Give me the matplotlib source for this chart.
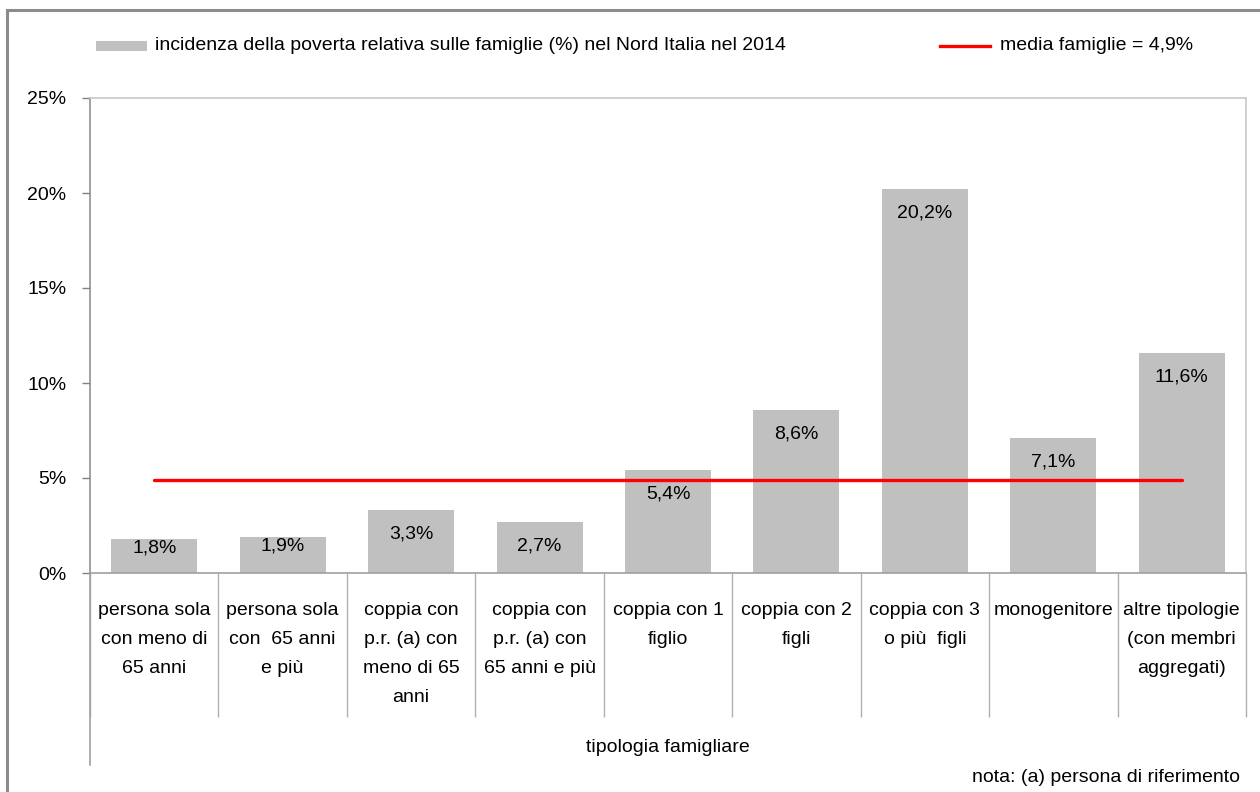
import matplotlib
matplotlib.use("Agg")
import matplotlib.pyplot as plt
from matplotlib.patches import Rectangle
from matplotlib.lines import Line2D
from matplotlib import font_manager

categories = [
    "persona sola\ncon meno di\n65 anni",
    "persona sola\ncon  65 anni\ne più",
    "coppia con\np.r. (a) con\nmeno di 65\nanni",
    "coppia con\np.r. (a) con\n65 anni e più",
    "coppia con 1\nfiglio",
    "coppia con 2\nfigli",
    "coppia con 3\no più  figli",
    "monogenitore",
    "altre tipologie\n(con membri\naggregati)",
]
values = [1.8, 1.9, 3.3, 2.7, 5.4, 8.6, 20.2, 7.1, 11.6]
media = 4.9
yticks = [0, 5, 10, 15, 20, 25]
ytick_labels = ["0%", "5%", "10%", "15%", "20%", "25%"]
bar_legend = "incidenza della poverta relativa sulle famiglie (%) nel Nord Italia nel 2014"
line_legend = "media famiglie = 4,9%"
xlabel = "tipologia famigliare"
note = "nota: (a) persona di riferimento"

names = {f.name for f in font_manager.fontManager.ttflist}
fam = ["Liberation Sans Narrow", "Liberation Sans", "DejaVu Sans"]
fam = [f for f in fam if f in names] + ["DejaVu Sans"]
plt.rcParams["font.family"] = fam
FS = 14

W, H = 1260, 792
fig = plt.figure(figsize=(W / 100, H / 100), dpi=100)

def fx(px):
    return px / W

def fy(py):
    return 1 - py / H

# outer chart frame
fig.patches.append(Rectangle((fx(7), fy(800)), fx(1270) - fx(7), fy(10) - fy(800),
                             transform=fig.transFigure, fill=False,
                             edgecolor="#8c8c8c", linewidth=2.2, clip_on=False))

ax = fig.add_axes([fx(90), fy(573), fx(1246) - fx(90), fy(98) - fy(573)])
n = len(values)
x = list(range(n))
ax.bar(x, values, width=0.67, color="#c0c0c0", zorder=2)
ax.plot([x[0], x[-1]], [media, media], color="#ff0000", linewidth=2.4,
        solid_capstyle="round", zorder=3)

ax.set_xlim(-0.5, n - 0.5)
ax.set_ylim(0, 25)
ax.set_yticks(yticks)
ax.set_yticklabels(ytick_labels, fontsize=FS)
ax.tick_params(axis="y", length=6, width=1, color="#808080", pad=11)

# category labels between separator ticks
ax.set_xticks(x)
ax.set_xticklabels(categories, fontsize=FS, va="top", linespacing=1.93)
ax.tick_params(axis="x", which="major", length=0, pad=21)
ax.set_xticks([i - 0.5 for i in range(n + 1)], minor=True)
ax.tick_params(axis="x", which="minor", length=104, width=1, color="#b0b0b0", direction="out")

for s in ["top", "right"]:
    ax.spines[s].set_color("#c8c8c8")
    ax.spines[s].set_linewidth(1.2)
ax.spines["bottom"].set_color("#a0a0a0")
ax.spines["bottom"].set_linewidth(1.2)
ax.spines["left"].set_color("#909090")
ax.spines["left"].set_linewidth(1.2)

# left axis line continues below the category labels
ax.add_line(Line2D([0, 0], [0, -(765 - 573) / (573 - 98)], transform=ax.transAxes,
                   color="#a0a0a0", linewidth=1.2, clip_on=False))

# value labels inside the bar tops
for xi, v in zip(x, values):
    hpx = v * (573 - 98) / 25
    off = 24 if hpx > 50 else 9
    ax.annotate(f"{v:.1f}%".replace(".", ","), (xi, v), xytext=(0, -off * 0.72),
                textcoords="offset points", ha="center", va="center",
                fontsize=FS, zorder=4)

# legend
fig.patches.append(Rectangle((fx(96), fy(51)), fx(147) - fx(96), fy(41) - fy(51),
                             transform=fig.transFigure, facecolor="#c0c0c0",
                             edgecolor="none"))
fig.text(fx(155), fy(46), bar_legend, fontsize=FS, ha="left", va="center")
fig.add_artist(Line2D([fx(940), fx(990)], [fy(46), fy(46)], color="#ff0000",
                      linewidth=2.4, transform=fig.transFigure))
fig.text(fx(1000), fy(46), line_legend, fontsize=FS, ha="left", va="center")

fig.text(fx(668), fy(748), xlabel, fontsize=FS, ha="center", va="center")
fig.text(fx(1240), fy(778), note, fontsize=FS, ha="right", va="center")

fig.savefig("out.png", dpi=100)
